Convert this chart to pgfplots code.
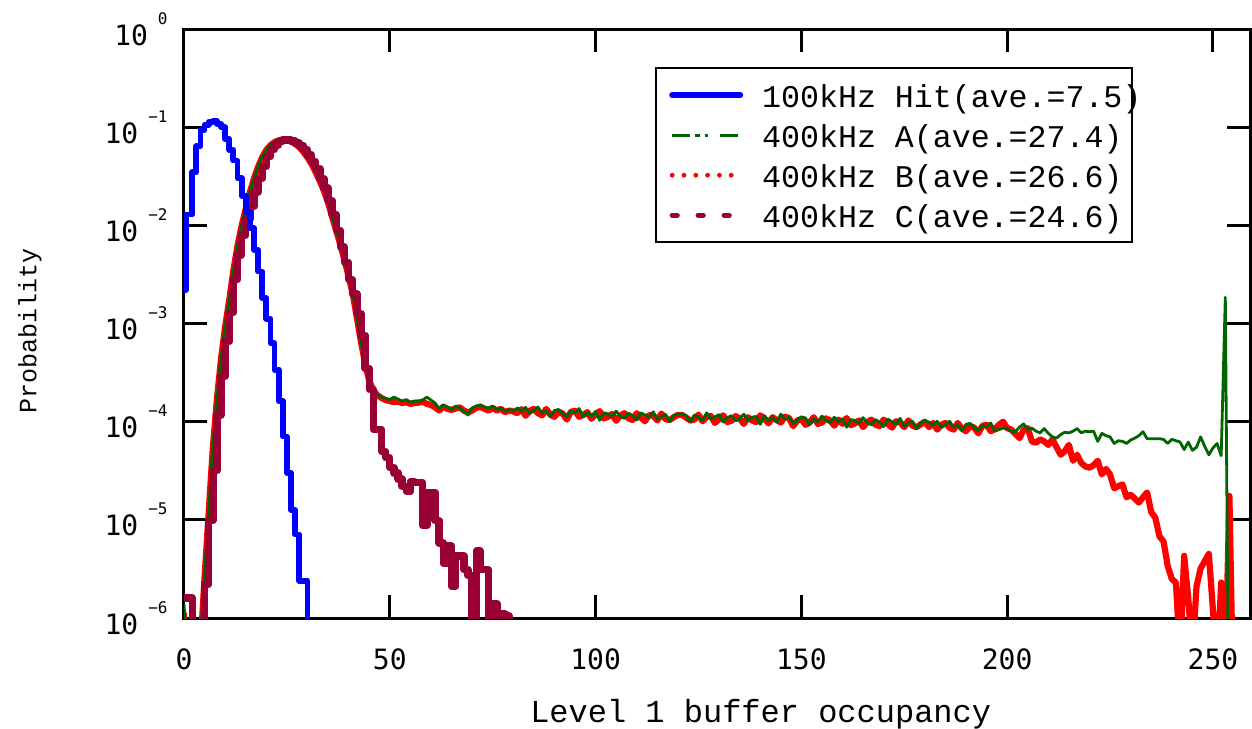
\documentclass[border=0pt]{standalone}
\usepackage{fontspec}
\setmainfont{Liberation Mono}
\newfontfamily\tickfont{DejaVu Sans Mono}
\usepackage{pgfplots}
\usepackage{pgfplotstable}
\pgfplotsset{compat=1.18}

\definecolor{cblue}{RGB}{0,0,255}
\definecolor{cgreen}{RGB}{0,100,0}
\definecolor{cred}{RGB}{255,0,0}
\definecolor{cmaroon}{RGB}{153,0,51}

% y tick label: 10 with a raised exponent
\newcommand{\ylab}[1]{10\hspace{5pt}\raisebox{10.5pt}{\fontsize{8}{8}\selectfont #1}}
\newcommand{\legtxt}[1]{\makebox[180pt][l]{#1}}

% 100kHz Hit, step histogram
\pgfplotstableread{
x y
0 2.21e-3
0.5 1.29e-2
2 3.47e-2
3 6.38e-2
4 9.33e-2
5 0.106
6 0.1135
7 0.115
8 0.108
9 0.100
10 7.59e-2
11 5.89e-2
12 4.57e-2
13 3.02e-2
14 2.0e-2
15 1.38e-2
16 9.33e-3
17 5.62e-3
18 3.39e-3
19 1.82e-3
20 1.12e-3
21 6.31e-4
22 3.39e-4
23 1.62e-4
24 7.08e-5
25 3.02e-5
26 1.26e-5
27 7.08e-6
28 2.4e-6
29 2.4e-6
30 1e-8
}\bluedata

% 400kHz C, step histogram
\pgfplotstableread{
x y
0 1.6e-6
1 1.6e-6
2 1e-8
3 1e-8
4 1e-8
5 2.2e-6
6 9.8e-6
7 3.16e-5
8 1.17e-4
9 2.9e-4
10 6.6e-4
11 1.29e-3
12 2.8e-3
13 5.0e-3
14 7.9e-3
15 1.15e-2
16 1.55e-2
17 2.19e-2
18 3.0e-2
19 3.98e-2
20 5.0e-2
21 5.9e-2
22 6.6e-2
23 7.1e-2
24 7.4e-2
25 7.4e-2
26 7.2e-2
27 6.9e-2
28 6.5e-2
29 5.9e-2
30 5.2e-2
31 4.5e-2
32 3.8e-2
33 3.0e-2
34 2.4e-2
35 1.78e-2
36 1.29e-2
37 8.9e-3
38 6.0e-3
39 4.2e-3
40 2.8e-3
41 2.0e-3
42 1.26e-3
43 7.6e-4
44 3.5e-4
45 2.14e-4
46 8.3e-5
47 8.3e-5
48 5.0e-5
49 4.3e-5
50 3.4e-5
51 3.0e-5
52 2.6e-5
53 2.2e-5
54 1.95e-5
55 2.45e-5
56 2.4e-5
57 2.4e-5
58 8.7e-6
59 1.9e-5
60 1.9e-5
61 9.8e-6
62 5.8e-6
63 3.6e-6
64 5.4e-6
65 2.1e-6
66 4.3e-6
67 4.3e-6
68 3.1e-6
69 2.7e-6
70 1e-8
71 4.8e-6
72 3.1e-6
73 3.1e-6
74 1e-8
75 1.4e-6
76 1e-8
77 1.1e-6
78 1.05e-6
79 1e-8
}\maroondata

% 400kHz A
\pgfplotstableread{
x y
0 1.4e-6
1 3e-7
2 1e-8
3 1e-8
4 6.3e-7
5 2.8e-6
6 1.26e-5
7 5.6e-5
8 1.78e-4
9 4.5e-4
10 9.5e-4
11 1.78e-3
12 3.55e-3
13 6.3e-3
14 1.0e-2
15 1.48e-2
16 2.19e-2
17 3.02e-2
18 3.98e-2
19 5.0e-2
20 5.9e-2
21 6.6e-2
22 7.1e-2
23 7.4e-2
24 7.6e-2
25 7.5e-2
26 7.2e-2
27 6.8e-2
28 6.3e-2
29 5.6e-2
30 4.9e-2
31 4.2e-2
32 3.47e-2
33 2.82e-2
34 2.24e-2
35 1.7e-2
36 1.2e-2
37 8.7e-3
38 6.3e-3
39 4.3e-3
40 3.0e-3
41 2.0e-3
42 1.12e-3
43 6.3e-4
44 3.8e-4
45 2.63e-4
46 2.14e-4
47 1.9e-4
48 1.78e-4
49 1.72e-4
50 1.68e-4
51 1.78e-4
52 1.70e-4
53 1.62e-4
54 1.68e-4
55 1.58e-4
56 1.62e-4
57 1.62e-4
58 1.66e-4
59 1.78e-4
60 1.66e-4
61 1.55e-4
62 1.35e-4
63 1.48e-4
64 1.41e-4
65 1.33e-4
66 1.44e-4
67 1.38e-4
68 1.26e-4
69 1.17e-4
70 1.38e-4
71 1.44e-4
72 1.48e-4
73 1.41e-4
74 1.38e-4
75 1.44e-4
76 1.33e-4
77 1.38e-4
78 1.28e-4
79 1.33e-4
80 1.28e-4
81 1.38e-4
82 1.27e-4
83 1.40e-4
84 1.21e-4
85 1.29e-4
86 1.41e-4
87 1.22e-4
88 1.29e-4
89 1.12e-4
90 1.30e-4
91 1.33e-4
92 1.21e-4
93 1.12e-4
94 1.29e-4
95 1.22e-4
96 1.36e-4
97 1.12e-4
98 1.24e-4
99 1.14e-4
100 1.27e-4
101 1.03e-4
102 1.23e-4
103 1.20e-4
104 1.12e-4
105 1.28e-4
106 1.14e-4
107 1.08e-4
108 1.22e-4
109 1.15e-4
110 1.04e-4
111 1.23e-4
112 1.17e-4
113 1.10e-4
114 1.26e-4
115 1.06e-4
116 1.13e-4
117 1.19e-4
118 1.00e-4
119 1.16e-4
120 1.20e-4
121 1.20e-4
122 1.15e-4
123 0.99e-4
124 1.17e-4
125 1.11e-4
126 1.03e-4
127 1.23e-4
128 1.06e-4
129 1.12e-4
130 1.18e-4
131 0.99e-4
132 1.10e-4
133 1.15e-4
134 1.02e-4
135 1.07e-4
136 1.19e-4
137 1.03e-4
138 1.11e-4
139 1.13e-4
140 0.94e-4
141 1.15e-4
142 1.02e-4
143 1.10e-4
144 0.99e-4
145 1.19e-4
146 1.06e-4
147 1.11e-4
148 0.96e-4
149 1.03e-4
150 1.12e-4
151 1.09e-4
152 0.93e-4
153 1.06e-4
154 1.00e-4
155 1.14e-4
156 1.03e-4
157 0.97e-4
158 1.11e-4
159 0.99e-4
160 1.07e-4
161 0.88e-4
162 1.05e-4
163 1.03e-4
164 0.96e-4
165 1.10e-4
166 0.98e-4
167 0.93e-4
168 1.05e-4
169 0.99e-4
170 0.89e-4
171 1.06e-4
172 1.00e-4
173 0.94e-4
174 1.08e-4
175 0.90e-4
176 0.97e-4
177 1.01e-4
178 0.85e-4
179 0.98e-4
180 1.02e-4
181 0.99e-4
182 0.91e-4
183 1.01e-4
184 0.87e-4
185 0.93e-4
186 1.01e-4
187 0.88e-4
188 0.93e-4
189 0.81e-4
190 0.94e-4
191 0.96e-4
192 0.87e-4
193 0.81e-4
194 0.92e-4
195 0.88e-4
196 0.97e-4
197 0.80e-4
198 0.83e-4
199 0.86e-4
200 0.85e-4
201 0.80e-4
202 0.79e-4
203 0.88e-4
204 0.95e-4
205 0.83e-4
206 0.86e-4
207 0.80e-4
208 0.77e-4
209 0.85e-4
210 0.76e-4
211 0.70e-4
212 0.68e-4
213 0.74e-4
214 0.78e-4
215 0.77e-4
216 0.80e-4
217 0.85e-4
218 0.77e-4
219 0.80e-4
220 0.79e-4
221 0.80e-4
222 0.63e-4
223 0.76e-4
224 0.72e-4
225 0.70e-4
226 0.60e-4
227 0.64e-4
228 0.63e-4
229 0.60e-4
230 0.65e-4
231 0.68e-4
232 0.72e-4
233 0.79e-4
234 0.67e-4
235 0.67e-4
236 0.67e-4
237 0.67e-4
238 0.66e-4
239 0.60e-4
240 0.66e-4
241 0.64e-4
242 0.62e-4
243 0.52e-4
244 0.62e-4
245 0.51e-4
246 0.55e-4
247 0.70e-4
248 0.56e-4
249 0.46e-4
250 0.54e-4
251 0.60e-4
252 0.45e-4
253 1.85e-3
254 1e-8
}\greendata

% 400kHz B
\pgfplotstableread{
x y
0 1.1e-6
1 2e-7
2 1e-8
3 1e-8
4 5e-7
5 2.6e-6
6 1.2e-5
7 5.4e-5
8 1.7e-4
9 4.4e-4
10 9.3e-4
11 1.75e-3
12 3.5e-3
13 6.2e-3
14 9.9e-3
15 1.47e-2
16 2.17e-2
17 3.0e-2
18 3.95e-2
19 4.95e-2
20 5.85e-2
21 6.55e-2
22 7.05e-2
23 7.35e-2
24 7.5e-2
25 7.4e-2
26 7.15e-2
27 6.75e-2
28 6.25e-2
29 5.6e-2
30 4.9e-2
31 4.2e-2
32 3.47e-2
33 2.82e-2
34 2.24e-2
35 1.7e-2
36 1.21e-2
37 8.8e-3
38 6.3e-3
39 4.4e-3
40 3.0e-3
41 2.0e-3
42 1.15e-3
43 6.5e-4
44 3.9e-4
45 2.6e-4
46 2.1e-4
47 1.86e-4
48 1.74e-4
49 1.66e-4
50 1.62e-4
51 1.58e-4
52 1.60e-4
53 1.55e-4
54 1.58e-4
55 1.52e-4
56 1.55e-4
57 1.56e-4
58 1.60e-4
59 1.52e-4
60 1.48e-4
61 1.40e-4
62 1.30e-4
63 1.42e-4
64 1.35e-4
65 1.32e-4
66 1.36e-4
67 1.40e-4
68 1.30e-4
69 1.24e-4
70 1.30e-4
71 1.38e-4
72 1.42e-4
73 1.35e-4
74 1.30e-4
75 1.38e-4
76 1.30e-4
77 1.35e-4
78 1.25e-4
79 1.30e-4
80 1.27e-4
81 1.22e-4
82 1.34e-4
83 1.15e-4
84 1.29e-4
85 1.35e-4
86 1.22e-4
87 1.16e-4
88 1.35e-4
89 1.18e-4
90 1.12e-4
91 1.26e-4
92 1.21e-4
93 1.05e-4
94 1.26e-4
95 1.29e-4
96 1.12e-4
97 1.17e-4
98 1.25e-4
99 1.07e-4
100 1.19e-4
101 1.28e-4
102 1.08e-4
103 1.12e-4
104 1.20e-4
105 1.02e-4
106 1.15e-4
107 1.22e-4
108 1.08e-4
109 1.04e-4
110 1.22e-4
111 1.10e-4
112 1.01e-4
113 1.17e-4
114 1.15e-4
115 1.03e-4
116 1.21e-4
117 1.06e-4
118 1.04e-4
119 1.11e-4
120 1.17e-4
121 1.17e-4
122 1.10e-4
123 1.03e-4
124 1.05e-4
125 1.18e-4
126 1.01e-4
127 1.12e-4
128 1.14e-4
129 0.97e-4
130 1.06e-4
131 1.16e-4
132 0.99e-4
133 1.02e-4
134 1.14e-4
135 1.08e-4
136 0.95e-4
137 1.11e-4
138 1.03e-4
139 0.99e-4
140 1.16e-4
141 1.08e-4
142 0.96e-4
143 1.11e-4
144 1.04e-4
145 0.98e-4
146 1.12e-4
147 1.09e-4
148 0.90e-4
149 1.03e-4
150 1.06e-4
151 0.93e-4
152 0.98e-4
153 1.11e-4
154 0.95e-4
155 0.98e-4
156 1.08e-4
157 1.03e-4
158 0.91e-4
159 1.05e-4
160 0.95e-4
161 1.09e-4
162 0.92e-4
163 0.96e-4
164 1.03e-4
165 0.88e-4
166 0.99e-4
167 1.05e-4
168 0.93e-4
169 0.90e-4
170 1.05e-4
171 0.95e-4
172 0.87e-4
173 1.01e-4
174 0.98e-4
175 0.88e-4
176 1.03e-4
177 0.91e-4
178 0.88e-4
179 0.94e-4
180 1.00e-4
181 0.88e-4
182 0.97e-4
183 0.83e-4
184 0.93e-4
185 0.97e-4
186 0.87e-4
187 0.83e-4
188 0.97e-4
189 0.85e-4
190 0.80e-4
191 0.90e-4
192 0.87e-4
193 0.76e-4
194 0.91e-4
195 0.93e-4
196 0.80e-4
197 0.84e-4
198 0.93e-4
199 1.00e-4
200 0.86e-4
201 0.83e-4
202 0.75e-4
203 0.68e-4
204 0.83e-4
205 0.86e-4
206 0.63e-4
207 0.61e-4
208 0.66e-4
209 0.63e-4
210 0.58e-4
211 0.66e-4
212 0.55e-4
213 0.46e-4
214 0.50e-4
215 0.58e-4
216 0.40e-4
217 0.46e-4
218 0.38e-4
219 0.35e-4
220 0.34e-4
221 0.36e-4
222 0.40e-4
223 0.29e-4
224 0.33e-4
225 0.29e-4
226 0.21e-4
227 0.22e-4
228 0.23e-4
229 0.17e-4
230 0.18e-4
231 0.165e-4
232 0.15e-4
233 0.17e-4
234 0.19e-4
235 0.12e-4
236 0.105e-4
237 0.068e-4
238 0.060e-4
239 0.034e-4
240 0.025e-4
241 0.023e-4
242 0.004e-4
243 0.043e-4
244 0.016e-4
245 0.004e-4
246 0.021e-4
247 0.032e-4
248 0.038e-4
249 0.045e-4
250 0.012e-4
251 0.003e-4
252 0.023e-4
253 0.003e-4
254 0.175e-4
255 0.001e-4
}\reddata

\begin{document}
\begin{tikzpicture}
\begin{axis}[
    scale only axis,
    width=533pt, height=294.5pt,
    xmin=0, xmax=259,
    ymode=log, ymin=1e-6, ymax=1,
    axis line style={line width=1.5pt},
    every tick/.style={black, line width=1.5pt},
    major tick length=11.5pt,
    tick align=inside,
    xtick pos=both, ytick pos=both,
    xticklabel pos=lower, yticklabel pos=left,
    xtick={0,50,100,150,200,250},
    xticklabels={0,50,100,150,200,250},
    ytick={1e-6,1e-5,1e-4,1e-3,1e-2,1e-1,1},
    yticklabels={\ylab{−6},\ylab{−5},\ylab{−4},\ylab{−3},\ylab{−2},\ylab{−1},\ylab{0}},
    yminorticks=false,
    xticklabel style={font=\tickfont\fontsize{14}{16}\selectfont, inner sep=0pt, anchor=north, yshift=-15pt},
    yticklabel style={font=\tickfont\fontsize{14}{16}\selectfont, inner sep=0pt, anchor=east, xshift=-8pt},
    xlabel={Level 1 buffer occupancy},
    xlabel style={font=\fontsize{16}{18}\selectfont, at={(axis description cs:0.541,-0.1766)}, anchor=base},
    ylabel={Probability},
    ylabel style={font=\fontsize{12.5}{14}\selectfont, at={(axis description cs:-0.1445,0.487)}, anchor=center},
    legend image code/.code={\path (0pt,0pt); \draw[#1] (1.5pt,0pt) -- (35.5pt,0pt);},
    legend style={at={(rel axis cs:0.4418,0.9355)}, anchor=north west,
        draw=black, line width=1.25pt,
        font=\fontsize{15.8}{18}\selectfont,
        inner xsep=5pt, inner ysep=3.5pt,
        row sep=0pt, column sep=9.5pt,
        nodes={inner sep=0pt, text height=16pt, text depth=4pt}},
    legend cell align=left,
]
\addlegendimage{cblue, line width=3pt, line cap=round}
\addlegendimage{cgreen, line width=1.3pt, dash pattern=on 9pt off 2.5pt on 2.5pt off 2.5pt on 1.5pt off 6pt}
\addlegendimage{cred, line width=2.4pt, line cap=round, dash pattern=on 0pt off 5.9pt}
\addlegendimage{cmaroon, line width=2.6pt, line cap=round, dash pattern=on 2.5pt off 10.5pt}

\addplot[cred, line width=3.1pt, line join=round, line cap=round, forget plot] table {\reddata};
\addplot[cgreen, line width=1.4pt, line join=round, forget plot] table {\greendata};
\addplot[cmaroon, line width=3.7pt, const plot, line join=round, line cap=round, forget plot] table {\maroondata};
\addplot[cblue, line width=2.9pt, const plot, line join=round, line cap=round, forget plot] table {\bluedata};

\legend{\legtxt{100kHz Hit(ave.=7.5)},\legtxt{400kHz A(ave.=27.4)},\legtxt{400kHz B(ave.=26.6)},\legtxt{400kHz C(ave.=24.6)}}

\coordinate (bl) at (rel axis cs:0,0);
\coordinate (tr) at (rel axis cs:1,1);
\end{axis}
\pgfresetboundingbox
\path[use as bounding box] ([shift={(-92pt,-55pt)}]bl) rectangle ([shift={(1pt,14.5pt)}]tr);
\end{tikzpicture}
\end{document}
